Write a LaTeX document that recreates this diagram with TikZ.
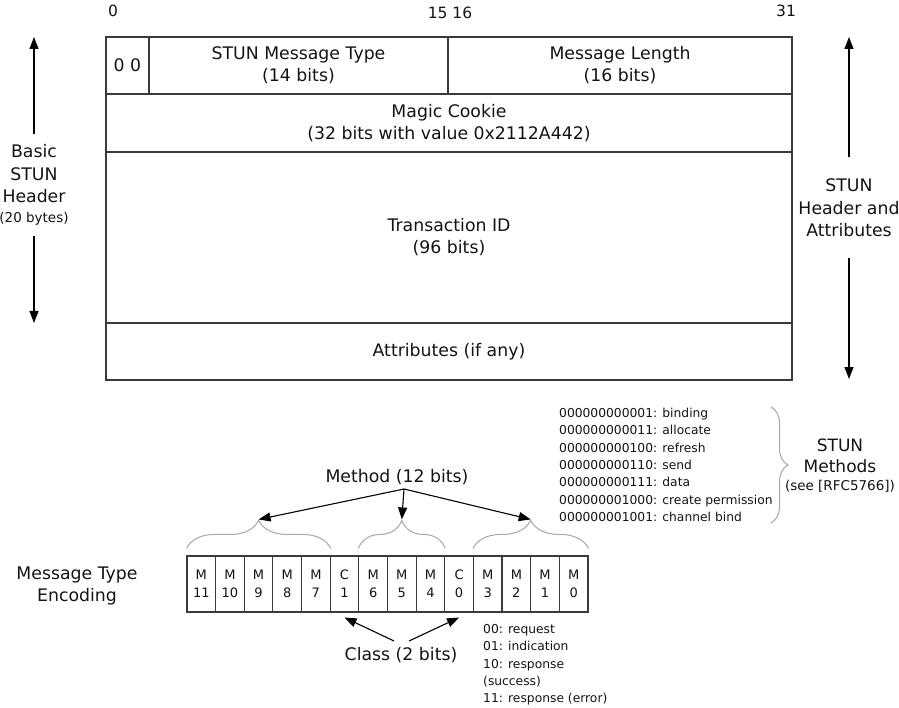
\documentclass[tikz,border=0pt]{standalone}
\usepackage{fontspec}
\setmainfont{DejaVu Sans}
\usetikzlibrary{arrows.meta,decorations.pathreplacing,calc}
\definecolor{linec}{HTML}{3A3A3A}
\definecolor{bracec}{HTML}{A8A8A8}
\definecolor{txt}{HTML}{141414}
\begin{document}
\begin{tikzpicture}[x=1pt,y=-1pt,
  fld/.style={draw=linec,line width=1.3pt,inner sep=0pt,align=center,text=txt,
    font=\fontsize{17.3}{22}\selectfont},
  bitc/.style={draw=linec,line width=1.1pt,inner sep=0pt,align=center,text=txt,
    minimum width=28.64pt,minimum height=56pt,font=\fontsize{13}{18}\selectfont},
  lbl/.style={align=center,text=txt,inner sep=1pt,font=\fontsize{17.3}{22.5}\selectfont},
  lst/.style={align=left,text=txt,inner sep=0pt,font=\fontsize{12.3}{17.3}\selectfont},
  arr/.style={draw=black,line width=1.1pt,-{Triangle[length=12pt,width=9pt]}},
  brc/.style={draw=bracec,line width=1pt,decorate,decoration={brace,amplitude=28pt}},
  brcv/.style={draw=bracec,line width=1pt,decorate,decoration={brace,amplitude=17pt}}]
\useasboundingbox[fill=white] (0,0) rectangle (899,708);

% bit numbers
\node[lbl,font=\fontsize{15.5}{18}\selectfont] (n0) at (113,11) {0};
\node[lbl,font=\fontsize{15.5}{18}\selectfont] (n15) at (450,13) {15 16};
\node[lbl,font=\fontsize{15.5}{18}\selectfont] (n31) at (786,11) {31};

% header fields
\node[fld,minimum width=43pt,minimum height=57pt] (zz) at (127.5,65.5) {0 0};
\node[fld,minimum width=299pt,minimum height=57pt] (mtype) at (298.5,65.5) {STUN Message Type\\(14 bits)};
\node[fld,minimum width=344pt,minimum height=57pt] (mlen) at (620,65.5) {Message Length\\(16 bits)};
\node[fld,minimum width=686pt,minimum height=58pt] (cookie) at (449,123) {Magic Cookie\\(32 bits with value 0x2112A442)};
\node[fld,minimum width=686pt,minimum height=171pt] (tid) at (449,237.5) {Transaction ID\\(96 bits)};
\node[fld,minimum width=686pt,minimum height=57pt] (attr) at (449,351.5) {Attributes (if any)};

% left label and arrows
\node[lbl] (basic) at (34,185) {Basic\\STUN\\Header\\[-3pt]{\fontsize{13.5}{16}\selectfont(20 bytes)}};
\coordinate (lup) at (34,37);
\coordinate (ldn) at (34,323);
\draw[arr] (basic.north) ++(0,-10) -- (lup);
\draw[arr] (basic.south) ++(0,10) -- (ldn);

% right label and arrows
\node[lbl] (hdr) at (849,208) {STUN\\Header and\\Attributes};
\coordinate (rup) at (849,37);
\coordinate (rdn) at (849,379);
\draw[arr] (hdr.north) ++(0,-21) -- (rup);
\draw[arr] (hdr.south) ++(0,20) -- (rdn);

% methods list
\node[lst,anchor=west] (mlist) at (559,465) {000000000001: binding\\000000000011: allocate\\000000000100: refresh\\000000000110: send\\000000000111: data\\000000001000: create permission\\000000001001: channel bind};
\draw[brcv] (771,407) -- (771,523);
\node[lbl,font=\fontsize{17}{20.5}\selectfont] (smeth) at (840,466) {STUN\\Methods\\[-2pt]{\fontsize{13.5}{16}\selectfont(see [RFC5766])}};

% message type encoding
\node[lbl] (mte) at (77,586) {Message Type\\Encoding};
\foreach \a/\b [count=\i from 0] in {M/11,M/10,M/9,M/8,M/7,C/1,M/6,M/5,M/4,C/0,M/3,M/2,M/1,M/0}
  \node[bitc] (b\i) at ({187+28.64*(\i+0.5)},584) {\a\\\b};

% braces over method bits
\draw[brc] ([yshift=7pt]b0.north west) -- ([yshift=7pt]b4.north east);
\draw[brc] ([yshift=7pt]b6.north west) -- ([yshift=7pt]b8.north east);
\draw[brc] ([yshift=7pt]b10.north west) -- ([yshift=7pt]b13.north east);
\coordinate (t1) at ($(b0.north west)!0.5!(b4.north east)+(0,-36)$);
\coordinate (t2) at ($(b6.north west)!0.5!(b8.north east)+(0,-36)$);
\coordinate (t3) at ($(b10.north west)!0.5!(b13.north east)+(0,-36)$);

\node[lbl] (method) at (397,477) {Method (12 bits)};
\coordinate (mroot) at (404,489);
\draw[arr] (mroot) -- (t1);
\draw[arr] (mroot) -- (t2);
\draw[arr] (mroot) -- (t3);

% class
\node[lbl] (class) at (401,655) {Class (2 bits)};
\coordinate (c1s) at (394,641);
\coordinate (c0s) at (409,641);
\draw[arr] (c1s) -- ([yshift=-5pt]b5.south);
\draw[arr] (c0s) -- ([yshift=-5pt]b9.south);

\node[lst,anchor=west] (clist) at (483,665) {00: request\\01: indication\\10: response\\(success)\\11: response (error)};
\end{tikzpicture}
\end{document}
